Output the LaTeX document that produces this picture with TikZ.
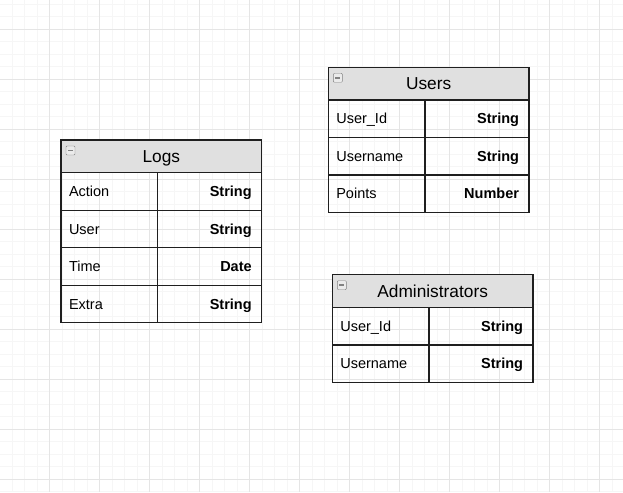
\documentclass[tikz,border=0pt]{standalone}
\usepackage{fontspec}
\setmainfont{Liberation Sans}
\usetikzlibrary{positioning}
\definecolor{headgray}{RGB}{224,224,224}
\definecolor{minorgrid}{RGB}{246,246,246}
\definecolor{majorgrid}{RGB}{229,229,229}
\definecolor{iconedge}{RGB}{130,130,130}

\begin{document}
\begin{tikzpicture}[x=1pt, y=-1pt,
  every node/.style={outer sep=0pt},
  gridminor/.style={draw=minorgrid, line width=1pt},
  gridmajor/.style={draw=majorgrid, line width=1pt},
  cell/.style={draw=black!88, line width=1.3pt, minimum height=37.5pt, inner ysep=0pt, text height=10.4pt, text depth=0pt},
  fieldname/.style={cell, inner xsep=8pt, text width=80.7pt, align=left, font=\fontsize{14.5}{16}\selectfont},
  fieldtype/.style={cell, inner xsep=10pt, text width=84pt, align=right, font=\fontsize{14.5}{16}\selectfont\bfseries},
  title/.style={draw=black!88, line width=1.3pt, fill=headgray, minimum width=200.7pt, minimum height=32.7pt, inner sep=0pt, anchor=north west, text height=12.4pt, text depth=0pt, font=\fontsize{17.3}{20}\selectfont},
  togglebox/.style={draw=iconedge, fill=black!8, rounded corners=1pt, minimum size=9pt, inner sep=0pt, anchor=north west,
    path picture={\draw[line width=1.8pt] ([xshift=2pt]path picture bounding box.west) -- ([xshift=-2pt]path picture bounding box.east);}},
]
\useasboundingbox (0,0) rectangle (623,492);
% background grid
\foreach \k in {0,...,49} \draw[gridminor] ({-0.3+12.5*\k},0) -- ++(0,492);
\foreach \k in {0,...,39} \draw[gridminor] (0,{4.3+12.5*\k}) -- ++(623,0);
\foreach \k in {0,...,12} \draw[gridmajor] ({-0.3+50*\k},0) -- ++(0,492);
\foreach \k in {0,...,9} \draw[gridmajor] (0,{29.3+50*\k}) -- ++(623,0);

% Logs
\node[title] (logs) at (61,140) {Logs};
\node[togglebox] (logs-icon) at ([xshift=5pt, yshift=-6pt]logs.north west) {};
\foreach \n/\t [count=\i] in {Action/String, User/String, Time/Date, Extra/String} {
  \node[fieldname, anchor=north west] (logs-n\i) at ([yshift={-37.5*(\i-1)}]logs.south west) {\n};
  \node[fieldtype, right=0pt of logs-n\i] (logs-t\i) {\t};
}

% Users
\node[title] (users) at (328.3,67.3) {Users};
\node[togglebox] (users-icon) at ([xshift=5pt, yshift=-6pt]users.north west) {};
\foreach \n/\t [count=\i] in {User\_Id/String, Username/String, Points/Number} {
  \node[fieldname, anchor=north west] (users-n\i) at ([yshift={-37.5*(\i-1)}]users.south west) {\n};
  \node[fieldtype, right=0pt of users-n\i] (users-t\i) {\t};
}

% Administrators
\node[title] (admins) at (332.3,274.7) {Administrators};
\node[togglebox] (admins-icon) at ([xshift=5pt, yshift=-6pt]admins.north west) {};
\foreach \n/\t [count=\i] in {User\_Id/String, Username/String} {
  \node[fieldname, anchor=north west] (admins-n\i) at ([yshift={-37.5*(\i-1)}]admins.south west) {\n};
  \node[fieldtype, right=0pt of admins-n\i] (admins-t\i) {\t};
}
\end{tikzpicture}
\end{document}
